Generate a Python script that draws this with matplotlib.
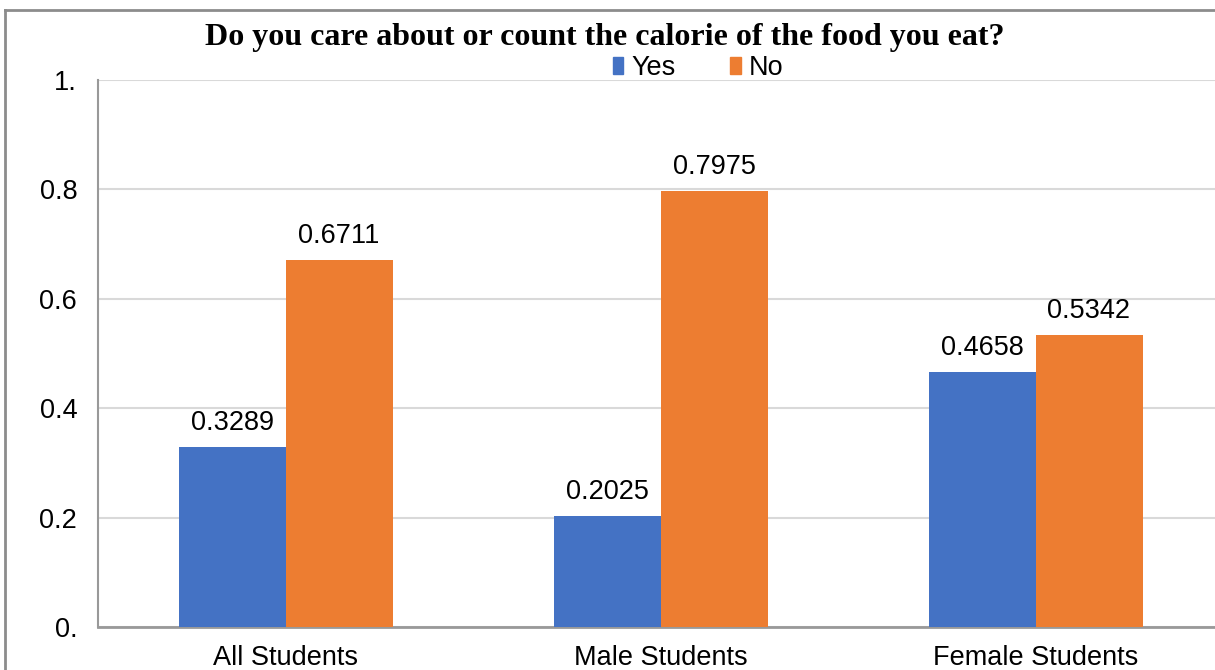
import numpy as np
import matplotlib
matplotlib.use("Agg")
import matplotlib.pyplot as plt
from matplotlib.lines import Line2D

categories = ["All Students", "Male Students", "Female Students"]
yes_vals = [0.3289, 0.2025, 0.4658]
no_vals = [0.6711, 0.7975, 0.5342]
yes_labels = ["0.3289", "0.2025", "0.4658"]
no_labels = ["0.6711", "0.7975", "0.5342"]
yticks = [0, 0.2, 0.4, 0.6, 0.8, 1.0]
ytick_labels = ["0.", "0.2", "0.4", "0.6", "0.8", "1."]

blue = "#4472C4"
orange = "#ED7D31"

W, H = 1215, 670
fig = plt.figure(figsize=(W / 100, H / 100), dpi=100)
plt.rcParams['font.family'] = ['Liberation Sans', 'DejaVu Sans']

# axes: left spine at x=98, bottom at y=627, top at y=80; one category = 375 px
px_unit = 375
left_px, bot_px, top_px = 98, 627, 80
ax = fig.add_axes([left_px / W, (H - bot_px) / H, 3 * px_unit / W, (bot_px - top_px) / H])

x = np.arange(len(categories))
bw = 107 / px_unit
b1 = ax.bar(x - bw / 2, yes_vals, bw, color=blue, zorder=3)
b2 = ax.bar(x + bw / 2, no_vals, bw, color=orange, zorder=3)

for rects, labs in ((b1, yes_labels), (b2, no_labels)):
    for r, t in zip(rects, labs):
        ax.annotate(t, (r.get_x() + r.get_width() / 2, r.get_height()),
                    xytext=(0, 8), textcoords="offset points",
                    ha="center", va="bottom", fontsize=19.5)

ax.set_xlim(-0.5, 2.5)
ax.set_ylim(0, 1.0)
ax.set_yticks(yticks)
ax.set_yticklabels(ytick_labels, fontsize=19.5)
ax.set_xticks(x)
ax.set_xticklabels(categories, fontsize=19.5)
ax.tick_params(axis="both", length=0)
ax.tick_params(axis="y", pad=15)
ax.tick_params(axis="x", pad=13)
ax.yaxis.grid(True, color="#d9d9d9", linewidth=1.5, zorder=0)
ax.set_axisbelow(True)
for s in ("top", "right"):
    ax.spines[s].set_visible(False)
ax.spines["left"].set_color("#999999")
ax.spines["left"].set_linewidth(1.5)
ax.spines["bottom"].set_color("#999999")
ax.spines["bottom"].set_linewidth(2)

fig.text(605 / W, 1 - 38 / H, "Do you care about or count the calorie of the food you eat?",
         ha="center", va="center", fontsize=23, fontweight="bold",
         family=["Liberation Serif", "DejaVu Serif"])

handles = [plt.Rectangle((0, 0), 1, 1, color=blue), plt.Rectangle((0, 0), 1, 1, color=orange)]
fig.legend(handles, ["Yes", "No"], loc="center", bbox_to_anchor=(698 / W, 1 - 68 / H),
           ncol=2, frameon=False, fontsize=19.5, handlelength=0.4, handleheight=0.55,
           handletextpad=0.3, columnspacing=2.0, borderpad=0)

# outer chart frame
fig.add_artist(Line2D([5 / W, 5 / W], [0, 1 - 10 / H], color="#8c8c8c", linewidth=2, transform=fig.transFigure))
fig.add_artist(Line2D([5 / W, 1], [1 - 10 / H, 1 - 10 / H], color="#8c8c8c", linewidth=2, transform=fig.transFigure))

fig.savefig("out.png", dpi=100)
